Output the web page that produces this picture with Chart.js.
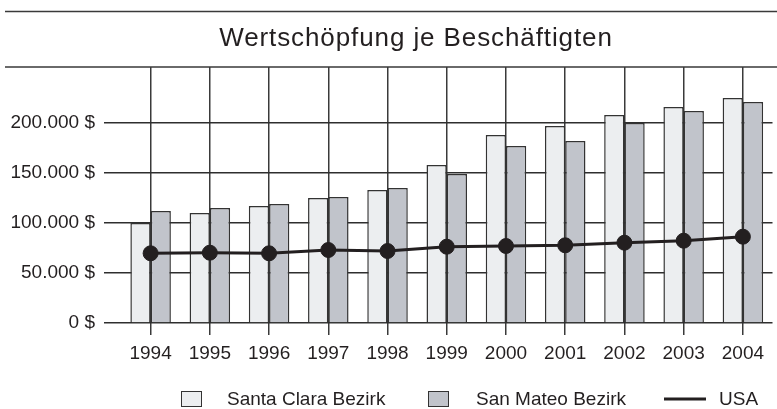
<!DOCTYPE html>
<html>
<head>
<meta charset="utf-8">
<script src="https://cdn.jsdelivr.net/npm/chart.js@4/dist/chart.umd.min.js"></script>
<style>
  html, body { margin: 0; padding: 0; background: #fff; overflow: hidden; }
  #wrap { width: 777px; height: 409px; overflow: hidden; }
</style>
</head>
<body>
<div id="wrap"><canvas id="chart" width="781" height="409"></canvas></div>
<script>
const chartTitle = 'Wertschöpfung je Beschäftigten';
const years = ['1994', '1995', '1996', '1997', '1998', '1999', '2000', '2001', '2002', '2003', '2004'];
const seriesNames = ['Santa Clara Bezirk', 'San Mateo Bezirk', 'USA'];
const santaClara = [100000, 110000, 117000, 125000, 133000, 158000, 188000, 197000, 208000, 216000, 225000];
const sanMateo = [112000, 115000, 119000, 126000, 135000, 149000, 177000, 182000, 200000, 212000, 221000];
const usa = [69700, 70300, 69700, 73000, 72000, 76300, 77000, 77700, 80300, 82300, 86300];
const yTicks = [0, 50000, 100000, 150000, 200000];

const ink = '#231f20';
const lightFill = '#eceef0';
const darkFill = '#c1c4cb';
const font = '"Liberation Sans", Arial, sans-serif';

// title, the two rules and the legend are painted by hand
const decorations = {
  id: 'decorations',
  afterDraw(chart) {
    const ctx = chart.ctx;
    ctx.save();
    ctx.strokeStyle = '#3a3a3a';
    ctx.lineWidth = 1.5;
    ctx.beginPath();
    ctx.moveTo(5, 11.5); ctx.lineTo(781, 11.5);
    ctx.moveTo(5, 67); ctx.lineTo(781, 67);
    ctx.stroke();

    ctx.fillStyle = ink;
    ctx.font = '26px ' + font;
    ctx.letterSpacing = '0.9px';
    ctx.textAlign = 'center';
    ctx.textBaseline = 'alphabetic';
    ctx.fillText(chartTitle, 416, 46);
    ctx.letterSpacing = '0px';

    // legend
    ctx.font = '19px ' + font;
    ctx.textAlign = 'left';
    ctx.lineWidth = 1;
    ctx.strokeStyle = '#333';
    ctx.fillStyle = lightFill;
    ctx.fillRect(181.5, 391.5, 20, 15);
    ctx.strokeRect(181.5, 391.5, 20, 15);
    ctx.fillStyle = darkFill;
    ctx.fillRect(428.5, 391.5, 20, 15);
    ctx.strokeRect(428.5, 391.5, 20, 15);
    ctx.strokeStyle = ink;
    ctx.lineWidth = 3;
    ctx.beginPath();
    ctx.moveTo(664, 399); ctx.lineTo(706, 399);
    ctx.stroke();
    ctx.fillStyle = ink;
    ctx.fillText(seriesNames[0], 227, 405);
    ctx.fillText(seriesNames[1], 476, 405);
    ctx.fillText(seriesNames[2], 719, 405);
    ctx.restore();
  }
};

new Chart(document.getElementById('chart'), {
  data: {
    labels: years,
    datasets: [
      {
        type: 'line',
        label: seriesNames[2],
        data: usa,
        borderColor: ink,
        backgroundColor: ink,
        borderWidth: 3,
        pointRadius: 7.5,
        pointBorderWidth: 1,
        pointBackgroundColor: ink,
        tension: 0,
        order: 0
      },
      {
        type: 'bar',
        label: seriesNames[0],
        data: santaClara,
        backgroundColor: lightFill,
        borderColor: '#333',
        borderWidth: 1.5,
        categoryPercentage: 0.684,
        barPercentage: 1,
        order: 1
      },
      {
        type: 'bar',
        label: seriesNames[1],
        data: sanMateo,
        backgroundColor: darkFill,
        borderColor: '#333',
        borderWidth: 1.5,
        categoryPercentage: 0.684,
        barPercentage: 1,
        order: 1
      }
    ]
  },
  options: {
    responsive: false,
    animation: false,
    devicePixelRatio: 1,
    layout: { padding: { top: 67, left: 0, right: 0, bottom: 0 } },
    plugins: {
      legend: { display: false },
      title: { display: false },
      tooltip: { enabled: false }
    },
    scales: {
      x: {
        offset: true,
        afterFit: (scale) => { scale.height = 86; },
        grid: { offset: false, color: '#3a3a3a', lineWidth: 1.5, tickLength: 12 },
        border: { display: false },
        ticks: { color: ink, font: { family: font, size: 19 }, padding: 7, maxRotation: 0 }
      },
      y: {
        min: 0,
        max: 256000,
        z: 1,
        afterFit: (scale) => { scale.width = 121; },
        afterBuildTicks: (scale) => { scale.ticks = yTicks.map(v => ({ value: v })); },
        grid: { color: '#2e2e2e', lineWidth: 1.5, tickLength: 17 },
        border: { display: false },
        ticks: {
          color: ink,
          font: { family: font, size: 19 },
          padding: 9,
          callback: (v) => v.toLocaleString('de-DE') + ' $'
        }
      }
    }
  },
  plugins: [decorations]
});
</script>
</body>
</html>
